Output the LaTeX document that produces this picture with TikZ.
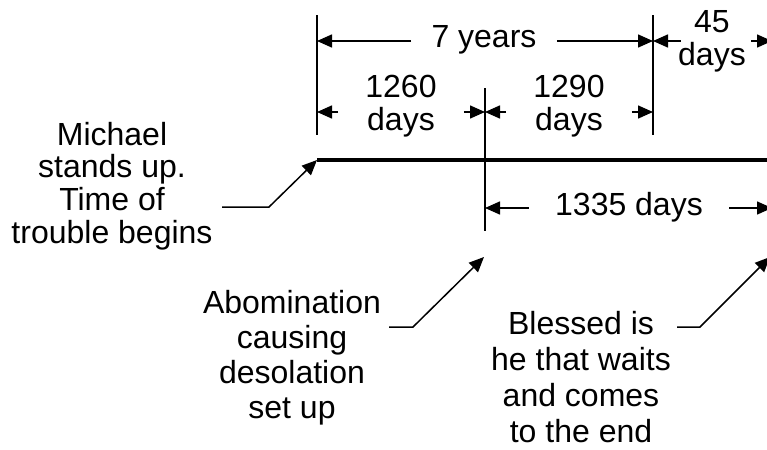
\documentclass[tikz,border=0pt]{standalone}
\usepackage{fontspec}
\setmainfont{Liberation Sans}
\usetikzlibrary{arrows.meta}
\newcommand\mylines[1]{\begin{tabular}[t]{@{}c@{}}#1\end{tabular}}
\begin{document}
\begin{tikzpicture}[x=0.5pt,y=-0.5pt,
  lbl/.style={font=\fontsize{16}{16.5}\selectfont, inner sep=0pt, anchor=base},
  thinline/.style={line width=0.75pt},
  arr/.style={thinline,-{Triangle[length=7.5pt,width=6.5pt]}},
  timeline/.style={line width=1.7pt}]
\clip (0,0) rectangle (767,450);
% timeline points
\coordinate (a) at (317,160);
\coordinate (b) at (485,160);
\coordinate (c) at (653,160);
\coordinate (e) at (772,160);
% arrow levels
\coordinate (L1) at (0,41);
\coordinate (L2) at (0,112);
\coordinate (L3) at (0,208);
% main line and ticks
\draw[timeline] (a) -- (e);
\draw[thinline] (a) ++(0,-145) -- ++(0,120);
\draw[thinline] (b) ++(0,-72) -- ++(0,143);
\draw[thinline] (c) ++(0,-145) -- ++(0,120);
% labels
\node[lbl] (y7) at (484,47) {7 years};
\node[lbl] (d45) at (712,32) {\mylines{45\\days}};
\node[lbl] (d1260) at (401,97) {\mylines{1260\\days}};
\node[lbl] (d1290) at (569,97) {\mylines{1290\\days}};
\node[lbl] (d1335) at (629,215) {1335 days};
\node[lbl,font=\fontsize{16}{16}\selectfont] (mich) at (112,145) {\mylines{Michael\\stands up.\\Time of\\trouble begins}};
\node[lbl,font=\fontsize{16}{17.5}\selectfont] (abom) at (292,313) {\mylines{Abomination\\causing\\desolation\\set up}};
\node[lbl,font=\fontsize{16}{18}\selectfont] (bless) at (581,334) {\mylines{Blessed is\\he that waits\\and comes\\to the end}};
% dimension arrows
\draw[arr] ([xshift=-10pt]y7.west |- L1) -- (a |- L1);
\draw[arr] ([xshift=10pt]y7.east |- L1) -- (c |- L1);
\draw[arr] ([xshift=1.5pt]d45.west |- L1) -- (c |- L1);
\draw[arr] ([xshift=2.5pt]d45.east |- L1) -- (e |- L1);
\draw[arr] ([xshift=-13.5pt]d1260.west |- L2) -- (a |- L2);
\draw[arr] ([xshift=13.5pt]d1260.east |- L2) -- (b |- L2);
\draw[arr] ([xshift=-13.5pt]d1290.west |- L2) -- (b |- L2);
\draw[arr] ([xshift=13.5pt]d1290.east |- L2) -- (c |- L2);
\draw[arr] ([xshift=-13pt]d1335.west |- L3) -- (b |- L3);
\draw[arr] ([xshift=13pt]d1335.east |- L3) -- (e |- L3);
% leaders
\coordinate (m1) at (222,207);
\coordinate (ab1) at (389,327);
\coordinate (ab2) at (484,257);
\coordinate (bl1) at (677,327);
\coordinate (bl2) at (770,257);
\draw[arr] (m1) -- ++(47,0) -- (a);
\draw[arr] (ab1) -- ++(24,0) -- (ab2);
\draw[arr] (bl1) -- ++(23,0) -- (bl2);
\end{tikzpicture}
\end{document}
